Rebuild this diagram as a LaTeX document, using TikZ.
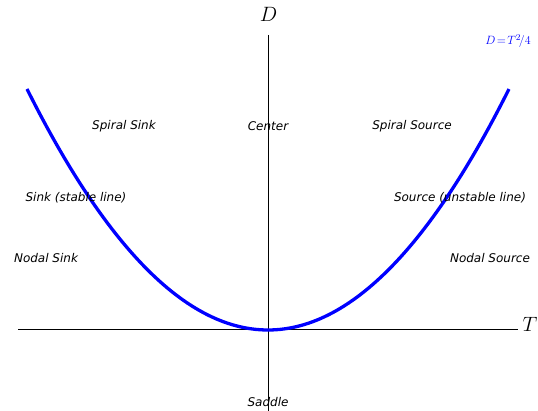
\documentclass[tikz,border=0pt]{standalone}
\usepackage{fontspec}
\setmainfont{DejaVu Sans}
\begin{document}
\begin{tikzpicture}[x=1pt,y=-1pt,
  region/.style={font=\fontsize{12}{14}\selectfont\itshape, inner sep=0pt, anchor=center},
  axis/.style={line width=1pt, black},
  curve/.style={line width=3.3pt, blue, line join=round}]
\useasboundingbox (0,0) rectangle (538,411);
\coordinate (tl) at (18,330);
\coordinate (tr) at (518,330);
\coordinate (dt) at (268,35);
\coordinate (db) at (268,411);
\draw[axis] (tl) -- (tr);
\draw[axis] (dt) -- (db);
\draw[curve] plot[domain=-4:4, samples=121] ({268+60.25*\x},{330-60.25*\x*\x/4});
\node[inner sep=0pt] (dlab) at (268.5,14) {\fontsize{21}{24}\selectfont$D$};
\node[inner sep=0pt] (tlab) at (530,324.5) {\fontsize{21}{24}\selectfont$T$};
\node[inner sep=0pt, text=blue] (eq) at (508,41) {\fontsize{13}{15}\selectfont$D\!=\!T^2\!/4$};
\node[region] (ss) at (124,126) {Spiral Sink};
\node[region] (ce) at (268,126) {Center};
\node[region] (so) at (412,126) {Spiral Source};
\node[region] (sl) at (76,198) {Sink (stable line)};
\node[region] (ul) at (460,198) {Source (unstable line)};
\node[region] (ns) at (46,258) {Nodal Sink};
\node[region] (no) at (490,258) {Nodal Source};
\node[region] (sa) at (268,402) {Saddle};
\end{tikzpicture}
\end{document}
